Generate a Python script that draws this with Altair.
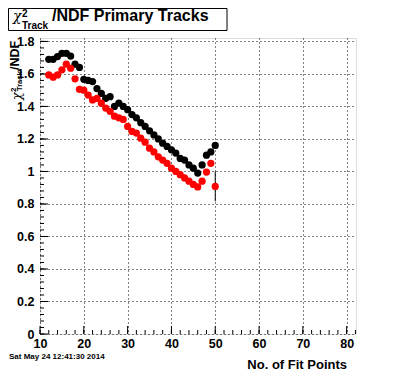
import altair as alt
import pandas as pd

# ---- data ----
fit_points = list(range(12, 51))
black_vals = [1.69, 1.69, 1.707, 1.727, 1.727, 1.71, 1.66, 1.64, 1.567, 1.56,
              1.553, 1.51, 1.48, 1.45, 1.46, 1.40, 1.42, 1.40, 1.38, 1.35,
              1.33, 1.30, 1.277, 1.25, 1.225, 1.20, 1.174, 1.154, 1.133, 1.113,
              1.08, 1.07, 1.04, 1.02, 0.99, 1.04, 1.10, 1.12, 1.16]
red_vals = [1.594, 1.58, 1.594, 1.625, 1.66, 1.635, 1.57, 1.505, 1.50, 1.47,
            1.44, 1.45, 1.42, 1.39, 1.37, 1.34, 1.33, 1.32, 1.277, 1.246,
            1.236, 1.205, 1.18, 1.143, 1.12, 1.09, 1.07, 1.05, 1.02, 1.0,
            0.98, 0.96, 0.94, 0.92, 0.905, 0.94, 0.996, 1.05, 0.908]
err_x = [50]
err_lo = [0.816]
err_hi = [1.0]

x_major = [10, 20, 30, 40, 50, 60, 70, 80]
x_minor = list(range(10, 83, 2))
y_major = [0, 0.2, 0.4, 0.6, 0.8, 1.0, 1.2, 1.4, 1.6, 1.8]
y_minor = [round(i * 0.04, 2) for i in range(0, 46)]

X_DOM = [10, 82.13]
Y_DOM = [0, 1.821]
W, H = 316, 296
FONT = "Liberation Sans"

pts = pd.DataFrame({
    "x": fit_points * 2,
    "v": black_vals + red_vals,
    "s": ["black"] * len(fit_points) + ["red"] * len(fit_points),
})
xs = alt.Scale(domain=X_DOM, nice=False, zero=False)
ys = alt.Scale(domain=Y_DOM, nice=False, zero=False)

xaxis = alt.Axis(values=x_major, title=None, ticks=False, domain=False,
                 grid=True, gridColor="black", gridDash=[1, 3], gridOpacity=1,
                 labelFont=FONT, labelFontWeight="bold", labelFontSize=12.5,
                 labelColor="black", labelPadding=3, labelFlush=False,
                 labelOverlap=False)
yaxis = alt.Axis(values=y_major, title=None, ticks=False, domain=False,
                 grid=True, gridColor="black", gridDash=[1, 3], gridOpacity=1,
                 labelFont=FONT, labelFontWeight="bold", labelFontSize=12.5,
                 labelColor="black", labelPadding=6, labelOverlap=False,
                 labelFlush=False,
                 labelExpr="format(datum.value, '.1~f')")

base = alt.Chart(pts)
black_layer = base.transform_filter(alt.datum.s == "black").mark_circle(
    size=52, color="black", opacity=1).encode(
    x=alt.X("x:Q", scale=xs, axis=xaxis),
    y=alt.Y("v:Q", scale=ys, axis=yaxis))
red_layer = base.transform_filter(alt.datum.s == "red").mark_circle(
    size=52, color="#ff0000", opacity=1).encode(
    x=alt.X("x:Q", scale=xs, axis=xaxis), y=alt.Y("v:Q", scale=ys, axis=yaxis))

err = alt.Chart(pd.DataFrame({"x": err_x, "lo": err_lo, "hi": err_hi})).mark_rule(
    color="black", strokeWidth=1).encode(
    x=alt.X("x:Q", scale=xs, axis=xaxis), y=alt.Y("lo:Q", scale=ys, axis=yaxis), y2="hi:Q")

def xticks(vals, length):
    return alt.Chart(pd.DataFrame({"t": vals})).mark_rule(color="black", strokeWidth=1).encode(
        x=alt.X("t:Q", scale=xs, axis=xaxis), y=alt.value(H), y2=alt.value(H - length))

def yticks(vals, length):
    return alt.Chart(pd.DataFrame({"t": vals})).mark_rule(color="black", strokeWidth=1).encode(
        y=alt.Y("t:Q", scale=ys, axis=yaxis), x=alt.value(0), x2=alt.value(length))

one = alt.Data(values=[{"a": 1}])

def txt(s, x, y, size, weight="bold", font=FONT, angle=0, align="left", style="normal"):
    return alt.Chart(one).mark_text(
        text=s, font=font, fontSize=size, fontWeight=weight, fontStyle=style,
        angle=angle, align=align, baseline="alphabetic", color="black").encode(
        x=alt.value(x), y=alt.value(y))

title_box = alt.Chart(one).mark_rect(fill="white", stroke="black", strokeWidth=1).encode(
    x=alt.value(-31.5), x2=alt.value(187), y=alt.value(-29.5), y2=alt.value(-7.5))

layers = [
    black_layer,
    xticks(x_minor, 4), xticks(x_major, 8),
    yticks(y_minor, 4), yticks(y_major, 8),
    err, red_layer,
    title_box,
    txt("χ", -27, -17, 14, weight="normal", font="DejaVu Serif", style="italic"),
    txt("2", -18, -21.5, 10),
    txt("Track", -18, -9.5, 10),
    txt("/NDF Primary Tracks", 12, -17.5, 16),
    # y-axis title (rotated)
    txt("χ", -19.5, 62, 12.5, weight="normal", font="DejaVu Serif", style="italic", angle=270),
    txt("2", -24, 54, 8, angle=270),
    txt("Track", -18, 53, 7.5, angle=270),
    txt("/NDF", -21, 32, 12.5, angle=270),
    # x-axis title and date
    txt("No. of Fit Points", 307, 331, 13, align="right"),
    txt("Sat May 24 12:41:30 2014", -31, 321, 8),
]

chart = alt.layer(*layers).properties(
    width=W, height=H,
    autosize=alt.AutoSizeParams(type="none"),
    padding={"left": 32, "top": 30, "right": 32, "bottom": 38},
).configure_view(stroke="black", strokeWidth=1).configure(background="white")

chart.save("out.html", embed_options={"renderer": "svg", "actions": False})
